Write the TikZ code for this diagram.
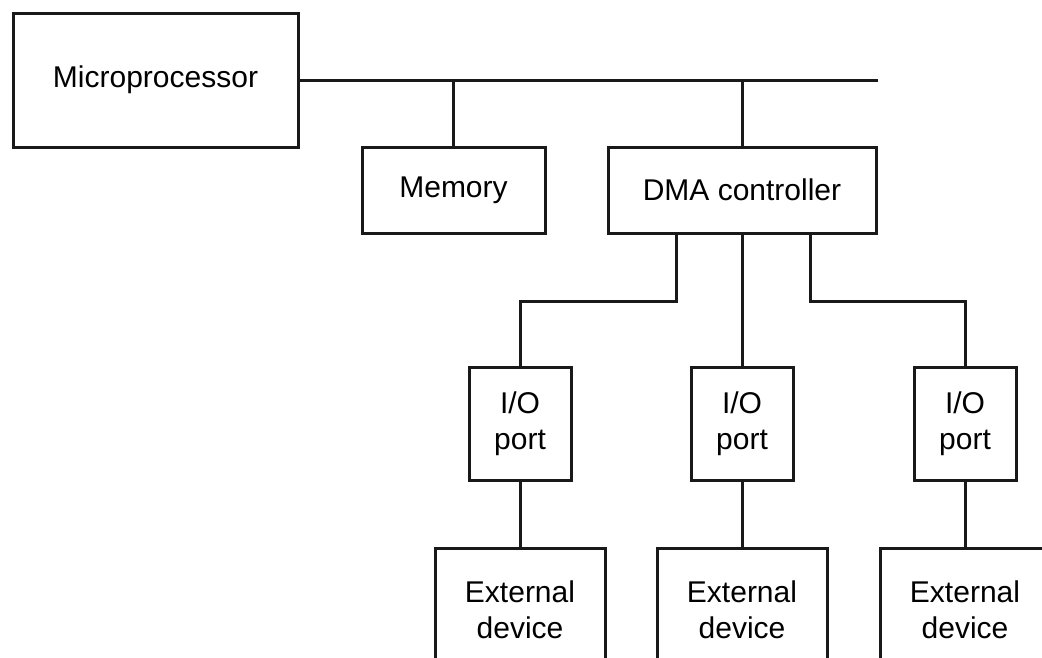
\documentclass[tikz,border=0pt]{standalone}
\usepackage{fontspec}
\setmainfont{Liberation Sans}
\begin{document}
\begin{tikzpicture}[x=1pt,y=1pt,
  line width=3pt,
  box/.style={draw=black!90, rectangle, inner sep=0pt, align=center,
    font=\fontsize{30}{36}\selectfont},
  wire/.style={draw=black!90, line width=3pt}]
  \useasboundingbox (0,0) rectangle (1042,-657);
  \clip (0,0) rectangle (1042,-657);

  % processor and system bus
  \node[box, minimum width=285, minimum height=134] (cpu) at (155.5,-80) {Microprocessor};
  \coordinate (busend) at (878,-80);
  \draw[wire] (cpu.east) -- (busend);

  % devices hanging off the bus
  \node[box, minimum width=183, minimum height=86] (mem) at (453.5,-190) {Memory};
  \node[box, minimum width=268, minimum height=86] (dma) at (742,-190) {DMA controller};
  \draw[wire] (mem.north) -- (mem.north |- busend);
  \draw[wire] (dma.north) -- (dma.north |- busend);

  % I/O ports
  \node[box, minimum width=102, minimum height=113] (io1) at (520,-423.5) {I/O\\port};
  \node[box, minimum width=102, minimum height=113] (io2) at (742,-423.5) {I/O\\port};
  \node[box, minimum width=102, minimum height=113] (io3) at (965,-423.5) {I/O\\port};
  \draw[wire] ([xshift=-66pt]dma.south) -- ++(0,-67) -| (io1.north);
  \draw[wire] (dma.south) -- (io2.north);
  \draw[wire] ([xshift=68pt]dma.south) -- ++(0,-67) -| (io3.north);

  % external devices (run past the lower edge)
  \node[box, minimum width=170, minimum height=124] (ext1) at (520,-610) {External\\device};
  \node[box, minimum width=170, minimum height=124] (ext2) at (742,-610) {External\\device};
  \node[box, minimum width=170, minimum height=124] (ext3) at (965,-610) {External\\device};
  \draw[wire] (io1.south) -- (ext1.north);
  \draw[wire] (io2.south) -- (ext2.north);
  \draw[wire] (io3.south) -- (ext3.north);
\end{tikzpicture}
\end{document}
